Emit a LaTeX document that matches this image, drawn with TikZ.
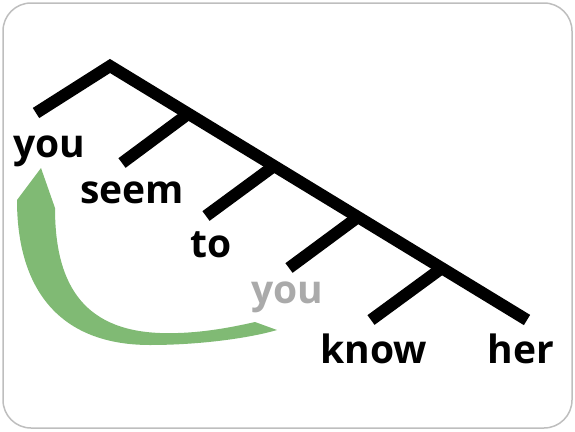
\documentclass[tikz,border=0pt]{standalone}
\usepackage{fontspec}
\setmainfont{Open Sans}
\usetikzlibrary{positioning}
\definecolor{arrowgreen}{RGB}{128,186,116}
\definecolor{tracegray}{RGB}{170,170,170}
\definecolor{framegray}{RGB}{190,190,190}

\begin{document}
\begin{tikzpicture}[x=1pt, y=-1pt,
    branch/.style={line width=12pt, line join=miter},
    word/.style={font=\fontsize{39}{44}\selectfont\bfseries, inner sep=0pt, anchor=base}]
            \useasboundingbox (0,0) rectangle (575,431);
            \draw[framegray, line width=1.5pt, rounded corners=28pt] (3,3) rectangle (572,428);

            % tree points
            \coordinate (root) at (110,66);
            \coordinate (l0) at (36,113);
            \coordinate (j1) at (188,114);
            \coordinate (j2) at (274,166);
            \coordinate (j3) at (358,217);
            \coordinate (j4) at (442,268);
            \coordinate (r4) at (527,320);
            \coordinate (b1) at (122,163);
            \coordinate (b2) at (206,216);
            \coordinate (b3) at (289,268);
            \coordinate (b4) at (371,320);

            \draw[branch] (l0) -- (root) -- (r4);
            \draw[branch] (j1) -- (b1);
            \draw[branch] (j2) -- (b2);
            \draw[branch] (j3) -- (b3);
            \draw[branch] (j4) -- (b4);

            % words
            \node[word] (you) at (49,157) {you};
            \node[word] (seem) at (132,203) {seem};
            \node[word] (to) at (211,257) {to};
            \node[word, text=tracegray] (trace) at (287,303) {you};
            \node[word] (know) at (374,363) {know};
            \node[word] (her) at (521,363) {her};

            % movement arrow
            \fill[arrowgreen] (277,330) -- (255,322)
                .. controls (220,330) and (190,334) .. (160,333)
                .. controls (80,330) and (55,280) .. (55,208)
                -- (41,168) -- (17,200)
                .. controls (17,290) and (60,345) .. (150,345)
                .. controls (200,345) and (250,338) .. (277,330) -- cycle;
          \end{tikzpicture}
\end{document}
